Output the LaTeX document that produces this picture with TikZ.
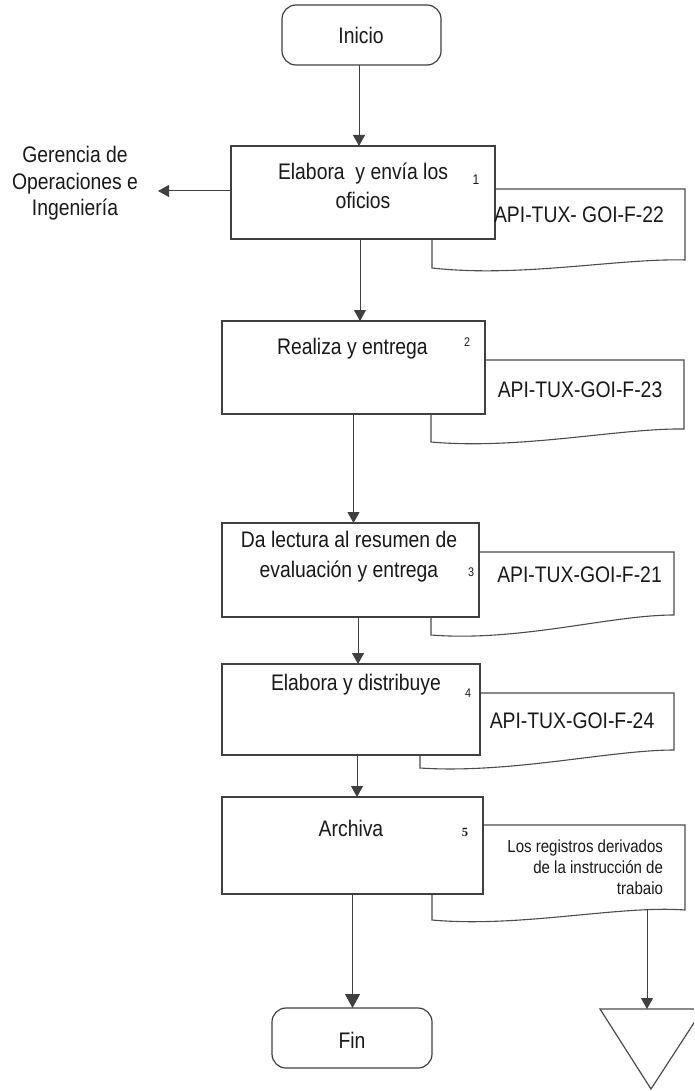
\documentclass[tikz,border=0pt]{standalone}
\usepackage{fontspec}
\setmainfont[FakeStretch=0.86]{Liberation Sans}
\newfontfamily\numserif{Liberation Serif}
\usetikzlibrary{arrows.meta}
\begin{document}
\begin{tikzpicture}[x=1pt,y=-1pt,
  every node/.style={inner sep=0pt, outer sep=0pt, text=black!90},
  txt/.style={font=\fontsize{22.5}{29}\selectfont, align=center},
  small/.style={font=\fontsize{17.5}{21}\selectfont, align=right},
  num/.style={font=\fontsize{12.5}{13}\selectfont},
  box/.style={draw=black!75, line width=1.2pt, fill=white},
  term/.style={box, rounded corners=14pt},
  conn/.style={draw=black!75, line width=1pt},
  arr/.style={conn, -{Triangle[width=12pt,length=11pt]}},
  arrbig/.style={conn, -{Triangle[width=15pt,length=14pt]}},
  docshape/.style={draw=black!70, line width=1.1pt},
]
\useasboundingbox (0,0) rectangle (694,1091);
\clip (0,0) rectangle (694,1091);

% document shapes (behind the boxes)
\draw[docshape] (432,189) -- (685,189) -- (685,260)
  .. controls (620,258) and (520,278) .. (432,268) -- cycle;
\draw[docshape] (431,360) -- (684,360) -- (684,429)
  .. controls (620,428) and (520,450) .. (431,442) -- cycle;
\draw[docshape] (431,552) -- (674,552) -- (674,615)
  .. controls (610,615) and (520,642) .. (431,635) -- cycle;
\draw[docshape] (420,693) -- (674,693) -- (674,750)
  .. controls (610,750) and (510,774) .. (420,768) -- cycle;
\draw[docshape] (432,825) -- (685,825) -- (685,910)
  .. controls (620,905) and (520,928) .. (432,920) -- cycle;

% terminals and process boxes
\node[term, minimum width=159pt, minimum height=60pt] (ini) at (361.5,35) {};
\node[box, minimum width=264pt, minimum height=93pt] (b1) at (363,192.5) {};
\node[box, minimum width=263pt, minimum height=93pt] (b2) at (353.5,367.5) {};
\node[box, minimum width=257pt, minimum height=94pt] (b3) at (350.5,570) {};
\node[box, minimum width=258pt, minimum height=91pt] (b4) at (351,709.5) {};
\node[box, minimum width=261pt, minimum height=97pt] (b5) at (352.5,845.5) {};
\node[term, minimum width=160pt, minimum height=60pt] (fin) at (352,1038) {};

% texts
\node[txt, anchor=base] (tini) at (361,44) {Inicio};
\node[txt, anchor=north] (t1) at (363,162.5) {Elabora\ \ y envía los\\oficios};
\node[txt, anchor=base] (t2) at (352.5,354) {Realiza y entrega};
\node[txt, anchor=north, font=\fontsize{22.5}{30}\selectfont] (t3) at (349,531.5) {Da lectura al resumen de\\evaluación y entrega};
\node[txt, anchor=base] (t4) at (356,690) {Elabora y distribuye};
\node[txt, anchor=base] (t5) at (351,836) {Archiva};
\node[txt, anchor=base] (tfin) at (352,1048) {Fin};
\node[txt, anchor=north, font=\fontsize{22.5}{26.5}\selectfont] (ger) at (75,146.5) {Gerencia de\\Operaciones e\\Ingeniería};

\node[num, font=\fontsize{14}{14}\selectfont, anchor=base] (n1) at (476,185) {1};
\node[num, anchor=base] (n2) at (467,346) {2};
\node[num, anchor=base] (n3) at (471,576) {3};
\node[num, anchor=base] (n4) at (468,697) {4};
\node[num, font=\numserif\bfseries\fontsize{12.5}{13}\selectfont, anchor=base] (n5) at (465,836) {5};

\node[txt, anchor=base] (d1) at (579,223) {API-TUX- GOI-F-22};
\node[txt, anchor=base] (d2) at (580,397) {API-TUX-GOI-F-23};
\node[txt, anchor=base] (d3) at (579.5,582) {API-TUX-GOI-F-21};
\node[txt, anchor=base] (d4) at (572,728) {API-TUX-GOI-F-24};
\node[small, anchor=north east] (d5) at (663,840) {Los registros derivados\\de la instrucción de\\trabaio};

% archive triangle
\coordinate (tri) at (647,1009);
\coordinate (d5b) at (647,909);
\draw[docshape, line width=1.2pt] (600,1009) -- (703,1009) -- (651,1089) -- cycle;

% connectors
\coordinate (gtip) at (158,191);
\draw[arr] ([xshift=-2.5pt]ini.south) -- ([xshift=-2.5pt]ini.south |- b1.north);
\draw[arr] (b1.west |- gtip) -- (gtip);
\draw[arr] ([xshift=-3pt]b1.south) -- ([xshift=-3pt]b1.south |- b2.north);
\draw[arr] (b2.south) -- (b2.south |- b3.north);
\draw[arr] ([xshift=7.5pt]b3.south) -- ([xshift=7.5pt]b3.south |- b4.north);
\draw[arr] ([xshift=6pt]b4.south) -- ([xshift=6pt]b4.south |- b5.north);
\draw[arrbig] (b5.south) -- (b5.south |- fin.north);
\draw[arr] (d5b) -- (tri);
\end{tikzpicture}
\end{document}
